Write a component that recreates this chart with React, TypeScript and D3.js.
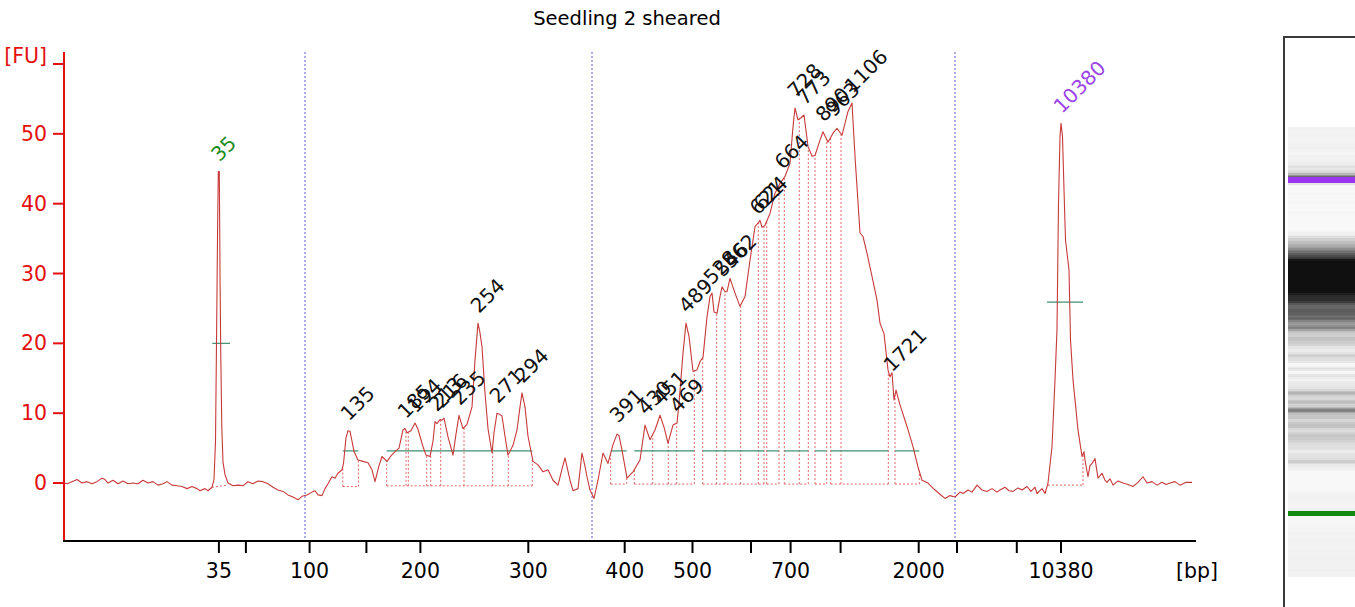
import React from "react";
import * as d3 from "d3";

// ---------- data ----------
const TITLE = "Seedling 2 sheared";

// migration time (s) and fluorescence (FU) of the electropherogram trace
const TRACE_T = [
  17.0, 17.15, 17.4, 17.65, 17.9, 18.15, 18.4, 18.65, 18.9, 19.05, 19.2, 19.45, 19.7, 19.95, 20.2, 20.45,
  20.7, 20.95, 21.2, 21.45, 21.7, 21.95, 22.15, 22.4, 22.65, 22.9, 23.15, 23.4, 23.65, 23.8, 24.05, 24.2,
  24.4, 24.5, 24.575, 24.625, 24.675, 24.715, 24.765, 24.8, 24.84, 24.89, 24.95, 25.05, 25.2, 25.45, 25.7,
  25.95, 26.2, 26.45, 26.7, 26.95, 27.2, 27.45, 27.7, 27.95, 28.2, 28.45, 28.7, 28.9, 29.15, 29.4, 29.55,
  29.7, 29.9, 30.05, 30.2, 30.4, 30.55, 30.7, 30.9, 30.975, 31.1, 31.2, 31.3, 31.4, 31.5, 31.7, 31.95, 32.2,
  32.4, 32.55, 32.75, 32.9, 33.15, 33.35, 33.55, 33.75, 33.95, 34.05, 34.15, 34.35, 34.55, 34.7, 34.8, 34.95,
  35.1, 35.3, 35.45, 35.55, 35.65, 35.8, 35.9, 36.0, 36.2, 36.45, 36.6, 36.75, 36.95, 37.15, 37.4, 37.55,
  37.7, 37.8, 37.9, 38.05, 38.2, 38.4, 38.5, 38.65, 38.8, 38.9, 39.05, 39.2, 39.45, 39.65, 39.8, 39.9, 40.05,
  40.2, 40.45, 40.7, 40.95, 41.2, 41.45, 41.7, 41.9, 42.05, 42.3, 42.45, 42.7, 42.9, 43.05, 43.15, 43.3, 43.5,
  43.7, 43.95, 44.2, 44.45, 44.65, 44.75, 44.9, 45.15, 45.45, 45.8, 46.05, 46.3, 46.55, 46.8, 47.0, 47.2,
  47.45, 47.65, 47.75, 47.95, 48.1, 48.25, 48.45, 48.65, 48.8, 48.95, 49.15, 49.3, 49.4, 49.5, 49.65, 49.8,
  49.9, 50.05, 50.15, 50.3, 50.55, 50.8, 51.05, 51.3, 51.55, 51.7, 51.8, 51.9, 52.05, 52.3, 52.55, 52.8,
  53.05, 53.3, 53.45, 53.55, 53.7, 53.85, 54.0, 54.2, 54.4, 54.55, 54.8, 54.95, 55.2, 55.45, 55.65, 55.9,
  56.05, 56.2, 56.4, 56.55, 56.8, 56.95, 57.15, 57.4, 57.65, 57.8, 58.0, 58.2, 58.3, 58.4, 58.5, 58.6, 58.8,
  59.15, 59.45, 59.7, 59.9, 60.2, 60.55, 60.8, 61.05, 61.3, 61.55, 61.8, 61.95, 62.2, 62.4, 62.65, 62.9,
  63.15, 63.4, 63.65, 63.8, 64.05, 64.25, 64.45, 64.7, 64.9, 65.15, 65.35, 65.55, 65.65, 65.9, 66.05, 66.2,
  66.4, 66.55, 66.65, 66.725, 66.8, 66.85, 66.925, 67.0, 67.075, 67.25, 67.325, 67.45, 67.7, 67.9, 68.0,
  68.05, 68.2, 68.3, 68.4, 68.55, 68.7, 68.9, 69.05, 69.15, 69.3, 69.45, 69.7, 69.95, 70.2, 70.45, 70.7,
  70.95, 71.15, 71.4, 71.65, 71.9, 72.1, 72.3, 72.55, 72.8, 73.1, 73.4,
];
const TRACE_FU = [
  0.0, -0.1, 0.2, 0.5, 0.0, 0.2, -0.1, 0.2, 0.7, 0.5, 0.0, 0.4, -0.1, 0.3, -0.1, 0.0,
  -0.1, 0.4, 0.0, 0.2, -0.3, -0.1, 0.2, -0.3, -0.4, -0.5, -0.8, -0.5, -0.8, -1.1, -0.8, -1.1,
  -0.6, 0.5, 6, 20, 35, 44.6, 44.6, 30, 18, 8, 3, 1.2, 0.0, -0.4, -0.3,
  -0.4, 0.2, -0.1, 0.3, 0.2, -0.1, -0.6, -1.0, -1.2, -1.7, -2.0, -2.4, -1.9, -1.7, -1.3, -1.1,
  -1.7, -1.8, -0.8, -0.1, 0.9, 0.7, 1.4, 1.9, 2.8, 6.5, 7.5, 7.4, 6.0, 4.5, 3.3, 3.1, 2.9,
  1.9, 0.2, 2.5, 3.8, 3.1, 3.9, 4.5, 5.0, 7.6, 7.8, 7.2, 7.5, 8.6, 7.7, 6.7, 5.2,
  4.0, 3.8, 6.0, 8.8, 8.5, 9.1, 9.0, 9.3, 6.6, 4.0, 7.0, 9.7, 7.8, 8.4, 10.9, 17.6,
  22.9, 21.5, 19.5, 12.9, 7.8, 4.3, 7.2, 10.0, 9.8, 9.6, 6.7, 4.0, 5.4, 7.6, 10.9, 12.9, 10.9,
  6.7, 3.1, 2.6, 1.6, 1.9, 0.4, -0.3, 2.0, 3.6, 0.4, -1.1, -0.8, 4.3, 2.4, 0.9, -1.0, -2.2,
  0.4, 4.3, 2.8, 5.5, 7.0, 6.8, 4.7, 0.7, 1.6, 3.3, 8.3, 6.2, 7.6, 9.7, 8.0, 5.7,
  8.3, 8.6, 11.4, 18.6, 22.9, 21.0, 16.0, 16.2, 17.4, 18.0, 23.8, 26.7, 27.2, 24.5, 24.3, 26.7,
  28.1, 27.4, 27.4, 29.3, 27.2, 25.3, 26.7, 31.9, 36.7, 37.2, 37.6, 36.6, 36.9, 38.6, 41.5, 42.9,
  43.9, 45.8, 51, 53.7, 52.0, 52.3, 52.7, 48.2, 46.8, 46.9, 49.1, 50.3, 48.8, 50.1, 50.8, 49.8,
  51.5, 53.2, 54.4, 46.8, 35.8, 35.3, 32.9, 29.6, 26.2, 22.9, 21.4, 16.2, 15.2, 15.8, 11.9, 13.3, 11.2,
  8.1, 5.2, 2.3, 0.4, 0.0, -1.0, -1.6, -2.2, -1.8, -2.0, -1.3, -1.5, -1.0, -1.3, -0.3, -1.0,
  -1.2, -0.8, -1.3, -1.0, -0.6, -1.1, -1.2, -0.7, -1.0, -0.5, -1.2, -0.6, -1.5, -0.8, -1.5, 0.0,
  5.2, 14.8, 22, 40, 49.6, 51.5, 49.6, 42, 34.8, 30.5, 20.5, 14.8, 7.6, 3.8, 4.5,
  3.3, 0.9, 2.5, 2.8, 3.5, 0.7, 1.4, 0.4, 0.1, 0.6, -0.3, 0.3, 0.0, -0.2, -0.5, 0.1,
  0.9, 0.0, 0.2, -0.3, 0.1, -0.2, 0.0, 0.2, -0.3, 0.1, 0.1,
];

// ladder: sizes (bp) and their migration times; only some are labelled
const LADDER_BP = [35, 50, 100, 150, 200, 300, 400, 500, 600, 700, 1000, 2000, 3000, 7000, 10380];
const LADDER_T = [24.745, 26.095, 29.28, 32.12, 34.82, 40.215, 45.035, 48.425, 51.35, 53.33, 55.83, 59.735, 61.65, 64.64, 66.85];
const LADDER_LABELED = [35, 100, 200, 300, 400, 500, 700, 2000, 10380];

const Y_TICKS = [0, 10, 20, 30, 40, 50];
const Y_TOP_LABEL = "[FU]";
const X_UNIT = "[bp]";

// blue dotted region separators (time)
const REGION_LINES_T = [29.05, 43.4, 61.55];

// called peaks
const PEAK_LABELS = ["35", "135", "185", "194", "213", "216", "235", "254", "271", "294", "391", "430", "451", "469", "489", "528", "546", "562", "621", "624", "664", "728", "773", "890", "963", "1106", "1721", "10380"];
const PEAK_T = [24.725, 31.2, 34.05, 34.55, 35.6, 35.85, 36.75, 37.7, 38.65, 39.9, 44.65, 46.05, 46.8, 47.65, 48.1, 49.35, 49.9, 50.3, 51.65, 51.85, 52.9, 53.55, 54.0, 54.95, 55.45, 56.4, 58.35, 66.85];
const PEAK_FU = [44.6, 7.5, 7.8, 8.6, 8.8, 9.3, 9.7, 22.9, 10.0, 12.9, 7.2, 8.3, 9.7, 8.6, 22.9, 27.0, 28.1, 29.3, 37.0, 37.6, 43.5, 53.7, 52.7, 50.3, 51.0, 54.4, 14.5, 51.5];
const PEAK_KIND = ["lower", "s", "s", "s", "s", "s", "s", "s", "s", "s", "s", "s", "s", "s", "s", "s", "s", "s", "s", "s", "s", "s", "s", "s", "s", "s", "s", "upper"];

// integration groups: peak boundaries (time), baseline (FU)
const GROUP_BOUNDS = [
  [30.94, 31.72],
  [33.135, 34.1, 34.215, 35.135, 35.335, 35.835, 37.0, 38.435, 39.215, 40.415],
  [44.335, 45.135],
  [45.515, 46.435, 47.215, 47.635, 48.515],
  [48.935, 49.635, 50.05, 50.835, 51.715, 52.0],
  [52.135, 52.75],
  [53.015, 53.765, 54.215],
  [54.55, 55.135],
  [55.335, 55.85, 58.215],
  [58.55, 59.765],
];
const GROUP_BASE = [-0.5, -0.4, -0.15, -0.15, -0.15, -0.15, -0.15, -0.15, -0.15, -0.15];
const GROUP_LEVEL = 4.6;

// marker integration
const MARKER_BASE = [[24.4, -0.6, 25.2, -0.3], [66.2, -0.3, 67.95, -0.3]];
const MARKER_HALF = [[24.415, 25.3, 20], [66.15, 67.95, 25.9]];
const MARKER_GEL_WINDOW = [[24.45, 25.0], [66.45, 67.25]];

// ---------- component ----------
const W = 1355;
const H = 607;
const FONT = "'DejaVu Sans', Verdana, sans-serif";

export default function App() {
  const x = d3.scaleLinear().domain([17, 73.6]).range([64, 1196]);
  const y = d3.scaleLinear().domain([-8.3, 60]).range([541, 64]);
  const gelY = d3.scaleLinear().domain([17, 73.6]).range([574, 126]);

  const idx = d3.range(TRACE_T.length);
  const line = d3
    .line<number>()
    .x((i) => x(TRACE_T[i]))
    .y((i) => y(TRACE_FU[i]));

  const bis = d3.bisector((d: number) => d).left;
  const valueAt = (t: number) => {
    const j = Math.max(1, Math.min(TRACE_T.length - 1, bis(TRACE_T, t)));
    const t0 = TRACE_T[j - 1], t1 = TRACE_T[j];
    const f = (t - t0) / (t1 - t0);
    return TRACE_FU[j - 1] + f * (TRACE_FU[j] - TRACE_FU[j - 1]);
  };

  const red = "#c83a3a";
  const dotRed = "#e06464";
  const green = "#3f8f70";
  const axisRed = "#e41010";

  const gray = (fu: number) => {
    const g = Math.round(Math.max(16, Math.min(248, 242 - 5.3 * fu)));
    return `rgb(${g},${g},${g})`;
  };
  const gelColor = (t: number, fu: number) => {
    if (t >= MARKER_GEL_WINDOW[0][0] && t <= MARKER_GEL_WINDOW[0][1]) return "#128a12";
    if (t >= MARKER_GEL_WINDOW[1][0] && t <= MARKER_GEL_WINDOW[1][1]) return "#9b35f0";
    return gray(fu);
  };

  return (
    <svg
      width={W}
      height={H}
      viewBox={`0 0 ${W} ${H}`}
      style={{ position: "absolute", left: 0, top: 0, background: "#fff" }}
      fontFamily={FONT}
    >
      <rect x={0} y={0} width={W} height={H} fill="#fff" />
      {/* title */}
      <text x={627} y={25} textAnchor="middle" fontSize={19.5} fill="#000">
        {TITLE}
      </text>

      {/* region separators */}
      {REGION_LINES_T.map((t, i) => (
        <line key={"rl" + i} x1={x(t)} x2={x(t)} y1={52} y2={541} stroke="#5a5ad6" strokeWidth={1} strokeDasharray="2,2" />
      ))}

      {/* integration groups */}
      {GROUP_BOUNDS.map((g, gi) => {
        const b = y(GROUP_BASE[gi]);
        const x0 = x(g[0]), x1 = x(g[g.length - 1]);
        return (
          <g key={"g" + gi}>
            <line x1={x0} x2={x1} y1={b} y2={b} stroke={dotRed} strokeDasharray="2,2" />
            {g.map((t, k) => (
              <line key={k} x1={x(t)} x2={x(t)} y1={b} y2={y(valueAt(t))} stroke={dotRed} strokeDasharray="2,2" />
            ))}
            <line x1={x0} x2={x1} y1={y(GROUP_LEVEL)} y2={y(GROUP_LEVEL)} stroke={green} strokeWidth={1.2} />
          </g>
        );
      })}

      {/* marker integration */}
      {MARKER_BASE.map((m, i) => (
        <g key={"mb" + i}>
          <line x1={x(m[0])} x2={x(m[2])} y1={y(m[1])} y2={y(m[3])} stroke={dotRed} strokeDasharray="2,2" />
          {i === 1 && (
            <line x1={x(m[2])} x2={x(m[2])} y1={y(m[3])} y2={y(valueAt(m[2]))} stroke={dotRed} strokeDasharray="2,2" />
          )}
        </g>
      ))}
      {MARKER_HALF.map((m, i) => (
        <line key={"mh" + i} x1={x(m[0])} x2={x(m[1])} y1={y(m[2])} y2={y(m[2])} stroke={green} strokeWidth={1.2} />
      ))}

      {/* trace */}
      <path d={line(idx) || ""} fill="none" stroke={red} strokeWidth={1.1} strokeLinejoin="round" />

      {/* peak labels */}
      {PEAK_LABELS.map((lab, i) => {
        const px = x(PEAK_T[i]) + 1;
        const py = y(PEAK_FU[i]) - 9;
        const col = PEAK_KIND[i] === "lower" ? "#1c8c1c" : PEAK_KIND[i] === "upper" ? "#9b45e8" : "#111";
        return (
          <text key={"pl" + i} x={px} y={py} fontSize={20} fill={col} transform={`rotate(-45 ${px} ${py})`}>
            {lab}
          </text>
        );
      })}

      {/* y axis */}
      <line x1={64} x2={64} y1={52} y2={542} stroke={axisRed} strokeWidth={2} />
      {Y_TICKS.map((v) => (
        <g key={"yt" + v}>
          <line x1={53} x2={64} y1={y(v)} y2={y(v)} stroke={axisRed} strokeWidth={2} />
          <text x={47} y={y(v) + 7} textAnchor="end" fontSize={20.5} fill={axisRed}>
            {v}
          </text>
        </g>
      ))}
      <line x1={53} x2={64} y1={y(60)} y2={y(60)} stroke={axisRed} strokeWidth={2} />
      <text x={47} y={y(60) - 1} textAnchor="end" fontSize={20.5} fill={axisRed}>
        {Y_TOP_LABEL}
      </text>

      {/* x axis */}
      <line x1={63} x2={1196} y1={541} y2={541} stroke="#000" strokeWidth={2} />
      {LADDER_BP.map((bp, i) => (
        <g key={"xt" + bp}>
          <line x1={x(LADDER_T[i])} x2={x(LADDER_T[i])} y1={541} y2={553} stroke="#000" strokeWidth={2} />
          {LADDER_LABELED.includes(bp) && (
            <text x={x(LADDER_T[i])} y={578} textAnchor="middle" fontSize={20.5} fill="#000">
              {bp}
            </text>
          )}
        </g>
      ))}
      <text x={1176} y={578} fontSize={20.5} fill="#000">
        {X_UNIT}
      </text>

      {/* gel lane */}
      <rect x={1288} y={127} width={67} height={450} fill="#f2f2f2" />
      <g shapeRendering="crispEdges">
        {idx.slice(0, -1).map((i) => {
          const tA = TRACE_T[i], tB = TRACE_T[i + 1];
          const yTop = gelY(tB), yBot = gelY(tA);
          const fu = (TRACE_FU[i] + TRACE_FU[i + 1]) / 2;
          return (
            <rect key={"gel" + i} x={1288} y={yTop} width={67} height={Math.max(0.6, yBot - yTop + 0.4)} fill={gelColor((tA + tB) / 2, fu)} />
          );
        })}
      </g>
      <path d="M1284,607 L1284,37 L1355,37" fill="none" stroke="#3a3a3a" strokeWidth={2} />
    </svg>
  );
}
